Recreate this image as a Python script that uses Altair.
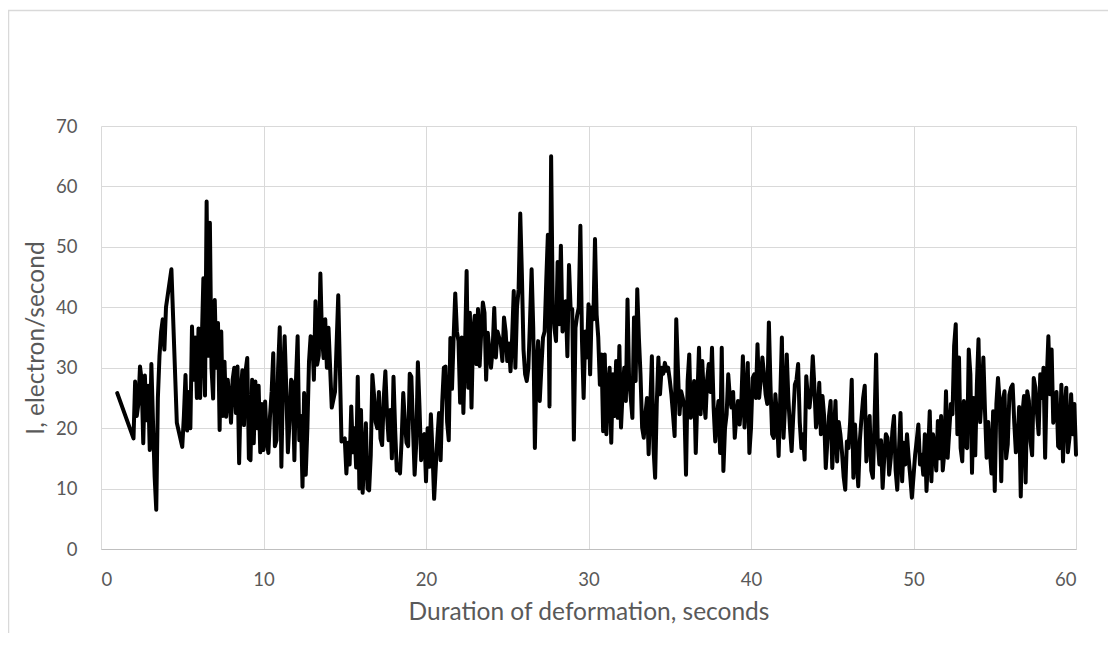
import altair as alt
import pandas as pd

# Samples per second of deformation (values spread evenly within each second)
# seconds 1..9
sec_01_09 = [
    [25.8],
    [18.3, 27.7, 22, 24, 30.2, 28, 17.5, 28.7, 21.3, 27],
    [16.4, 30.6, 21, 12, 6.5, 25, 32, 36, 38, 33],
    [40, 46.3, 20.9],
    [16.9, 22, 28.8, 19.6, 26, 20, 36.8, 28, 35, 25],
    [36.5, 25, 34, 44.8, 25.4, 57.5, 32, 54, 30, 24.9],
    [41.2, 30, 37.4, 19.7, 36, 22, 31, 21.9, 28, 25],
    [20.9, 28, 30, 22.5, 30.2, 14.2, 26, 29.6, 20.5, 29.5],
    [31.6, 15, 14.7, 28, 17.5, 27.7, 20, 27, 16, 24],
]
# seconds 10..19
sec_10_19 = [
    [16.4, 24.4, 18, 15.9, 22, 26, 32.4, 17, 18, 30],
    [36.7, 13.6, 28, 35.2, 26.7, 16, 21, 28, 27.5, 14.7],
    [28, 35.2, 18, 22, 10.3, 25.8, 12.3, 20, 31, 35.2],
    [35, 28, 41, 30.5, 32, 45.6, 35, 31.6, 38, 30],
    [36.6, 23.4, 26, 42, 17.8],
    [18.3, 12.5, 17.6, 14, 23.6, 16, 20, 13.5, 28.5, 10],
    [23, 9.3, 15, 20.8, 10, 9.7, 15.5, 28.8, 25.5, 21],
    [20, 26, 18.3, 17.2, 25, 29.4, 22.3, 18, 23, 15],
    [28.5, 19.9, 13, 14, 12.5, 18, 25.8, 21, 17.6, 17],
    [29, 28.5, 20, 12.3, 17.5, 30.9, 23.5, 14.7, 18.6, 19],
]
# seconds 20..29
sec_20_29 = [
    [11.2, 20, 13.6, 22.3, 16, 8.3, 13.5, 18.3, 22.5, 14.7],
    [24.4, 30, 30.2, 21, 18, 34.9, 26.5, 35, 42.3, 36],
    [34.4, 24.2, 35, 22.5, 33, 46, 26.7, 39.1, 23.4, 36],
    [38.6, 30.6, 39.7, 30.3, 36, 40.8, 39.1, 28, 35.8, 33],
    [30, 33, 39.9, 31.7, 36, 35, 34, 31.1, 38.3, 36],
    [31.1, 34, 29.4, 35, 42.7, 30, 40, 43, 55.5, 45.5],
    [33, 28.9, 27.8, 30, 37.7, 46.3, 36.5, 16.7, 30, 34.4],
    [24.5, 30, 35, 36, 44.4, 52, 23.6, 65, 40, 36.6],
    [34.4, 47.5, 37.2, 50.2, 36, 37.2, 41, 31.9, 47, 39.7],
    [39.7, 18.1, 36.6, 38.6, 40, 53.5, 34.4, 25, 36, 31.7],
]
# seconds 30..39
sec_30_39 = [
    [40.5, 28.9, 40, 38, 51.3, 38.8, 35, 27.2, 32.2, 19.5],
    [32.2, 19, 26.7, 30, 17.6, 28.9, 22, 31.1, 21.7, 33.6],
    [20.1, 26, 30, 24.5, 41.3, 27.8, 25, 21.7, 38.3, 27.8],
    [43, 35, 28.9, 20.1, 18.4, 22.3, 25, 15.7, 23.4, 31.9],
    [16.7, 11.8, 24, 31.7, 25.6, 30, 29, 30.8, 29.5, 30],
    [28, 25.6, 22.3, 18.7, 38, 30, 22.3, 26.1, 25, 23.4],
    [12.3, 27.8, 32.2, 21.7, 24, 27.8, 15.9, 25, 33.3, 22.3],
    [31.1, 25, 21.7, 28, 30.6, 26, 33.3, 23.4, 17.8, 22],
    [24.5, 15.9, 33.3, 12.9, 20, 22.3, 28.9, 25, 23.4, 26],
    [18.4, 22, 24.5, 20.6, 24, 31.9, 20.1, 25, 30.8, 15.9],
]
# seconds 40..49
sec_40_49 = [
    [20, 28.3, 28.9, 25, 33.9, 25, 28, 31.7, 28.9, 25.6],
    [24, 37.5, 27, 19, 18.4, 25.6, 22, 15.4, 25, 35],
    [18.4, 24, 32.2, 24.8, 20, 16.2, 22, 27.2, 28, 30.6],
    [21, 16.7, 19, 14.8, 28.6, 25, 23.4, 26, 31.9, 27],
    [20.1, 22, 27.5, 19, 25.3, 22, 13.4, 17.8, 22, 24.5],
    [13.4, 19, 24.5, 14.5, 21, 19, 16, 12, 9.8, 17.8],
    [16.7, 21, 28, 11.8, 20.6, 15, 10.4, 18, 21.7, 25],
    [27, 14.5, 17.8, 22, 13, 11.8, 20.9, 32.2, 17.8, 14],
    [18, 10.1, 15.1, 19, 18.4, 12.3, 15, 19.5, 22, 13],
    [9.8, 16, 22.5, 11.2, 17.6, 14, 19, 15.1, 12, 8.5],
]
# seconds 50..60
sec_50_60 = [
    [12, 15.6, 18, 20.6, 14, 15.6, 12.3, 19, 9.6, 16],
    [22.8, 11.2, 19, 16.7, 13, 21.2, 15, 22, 13, 16],
    [26.1, 15.1, 19.5, 24, 22.3, 33.6, 37.2, 19, 31.7, 16.7],
    [14.5, 24.5, 17, 16.7, 33, 28.9, 12.6, 25, 15.5, 27.2],
    [34.7, 21, 25.6, 31.7, 22.8, 15.1, 21, 16.2, 12.5, 22.8],
    [9.6, 24, 28.3, 24.5, 11.2, 24.5, 26.1, 15, 17.3, 25.5],
    [26.7, 27.2, 20.9, 16, 17.3, 23.5, 8.7, 22.3, 25.3, 11],
    [26.1, 24.5, 17.8, 15.5, 28.3, 26.7, 22.5, 19, 28.9, 25],
    [30, 15.1, 28, 35.2, 25.6, 33, 20.9, 23.4, 26, 17],
    [16.7, 27.2, 14.5, 23, 26.7, 16, 18.4, 25.6, 19, 24],
    [15.6],
]

x_ticks = [0, 10, 20, 30, 40, 50, 60]
y_ticks = [0, 10, 20, 30, 40, 50, 60, 70]

blocks = [(1, sec_01_09), (10, sec_10_19), (20, sec_20_29),
          (30, sec_30_39), (40, sec_40_49), (50, sec_50_60)]
rows = []
for start, chunks in blocks:
    for k, chunk in enumerate(chunks):
        sec = start + k
        for i, v in enumerate(chunk):
            rows.append({"t": sec + i / len(chunk), "I": v})
df = pd.DataFrame(rows)

FONT = "Lato"
GREY = "#595959"

line = alt.Chart(df).mark_line(
    color="black", strokeWidth=4, strokeJoin="round", strokeCap="round"
).encode(
    x=alt.X("t:Q", scale=alt.Scale(domain=[0, 60], nice=False, zero=False),
            axis=alt.Axis(values=x_ticks, title="Duration of deformation, seconds",
                          grid=True, gridColor="#d9d9d9", ticks=False, tickSize=0,
                          domain=True, domainColor="#bfbfbf", labelPadding=21,
                          labelFontSize=18.5, titleFontSize=24.5, titleX=487.5, titleY=63,
                          titleBaseline="middle", titleAlign="center")),
    y=alt.Y("I:Q", scale=alt.Scale(domain=[0, 70], nice=False),
            axis=alt.Axis(values=y_ticks, title="I, electron/second",
                          grid=True, gridColor="#d9d9d9", ticks=False, tickSize=0,
                          domain=False, labelPadding=24, labelFontSize=18.5,
                          titleFontSize=24.5, titleX=-65, titleY=211.5,
                          titleBaseline="middle", titleAlign="center", titleAngle=270)),
)

frame = alt.Chart(pd.DataFrame({"a": [0]})).mark_rect(
    fillOpacity=0, stroke="#d9d9d9", strokeWidth=1.5, clip=False
).encode(
    x=alt.value(-92.5), x2=alt.value(1100), y=alt.value(-115.5), y2=alt.value(520)
)

chart = alt.layer(frame, line).properties(
    width=975, height=423,
    autosize=alt.AutoSizeParams(type="none"),
    padding={"left": 93, "top": 118, "right": 32, "bottom": 84},
).configure_view(stroke=None).configure_axis(
    labelFont=FONT, titleFont=FONT, labelColor=GREY, titleColor=GREY,
    titleFontWeight="normal", gridWidth=1,
)

chart.save("out.html", embed_options={"renderer": "svg", "actions": False})
